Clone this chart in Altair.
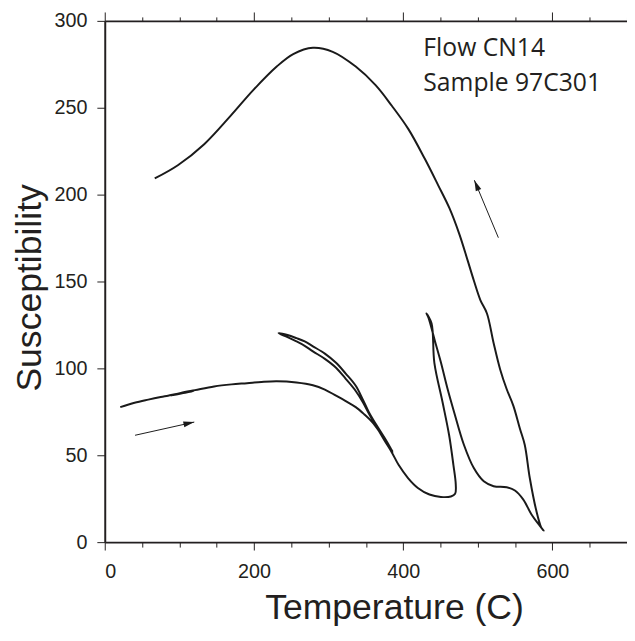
import math
import altair as alt
import pandas as pd

# ---- measured path (temperature in C, susceptibility) in drawing order ----
temp = [
    20.8, 40, 58.3, 75, 84.8, 100, 120, 105, 88, 102, 121, 146.6, 170, 190.7, 210, 230.5,
    257, 279, 295, 310, 323, 336.4, 348, 358.5, 370, 380.5, 386,
    375, 364, 354, 346, 336.4, 323, 310, 295, 279, 268, 257, 245, 233,
    245, 257, 268, 279, 295, 310, 323, 336.4, 346, 354, 364, 375, 385,
    393.8, 406.5, 419.7, 435.2, 450.6, 463.9, 469.6, 470.5, 467.3, 461.6, 452.8, 441.8, 438, 431.3,
    434, 443, 450.7, 459, 468.3, 481.5, 494.7, 508, 521.2, 538.8, 549.8, 560.8, 571.8, 583, 588.2,
    585, 578.5, 569.7, 563, 556.5, 547.6, 538.8, 530, 521.2, 512.3, 503.6, 494.7, 486.5, 475.5,
    462, 446.8, 429, 407, 385, 363, 336.4, 305.6, 279, 252.6, 230.5, 199.6, 168.6, 133.3, 98, 67,
]
susc = [
    77.7, 80.2, 82, 83.5, 84.3, 85.6, 87.1, 85.8, 84.3, 85.9, 87.5, 89.6, 90.8, 91.5, 92.2, 92.6,
    91.9, 90.3, 87.8, 84.3, 81.2, 77.7, 73.5, 69.1, 62.5, 55.9, 52,
    60, 67.5, 74.8, 82, 90, 97, 103.2, 108.5, 112.7, 115.5, 117.4, 119.2, 120.3,
    118, 115.5, 113, 109.8, 105.5, 100.4, 94, 87, 80.5, 74, 66.5, 58.5, 51.5,
    44.5, 36.9, 31.2, 27.4, 26, 26.3, 27.8, 33.1, 44.5, 61.5, 80.5, 103.2, 126, 131.6,
    129, 115, 103.2, 89, 74.8, 55.9, 42.6, 35, 32.2, 31.6, 29.7, 24.6, 16.1, 9.5, 6.6,
    8.5, 18, 36.9, 55.9, 65.3, 78.6, 88, 99.4, 114.6, 131.6, 139.2, 150.6, 162, 177,
    192.2, 205.5, 220.6, 237.7, 251, 263, 273.7, 282.2, 284.5, 280.9, 273.7, 260.4, 245.3, 229, 216.9, 209.3,
]

# ---- arrows (tail -> head) ----
arrow_x0 = [40.6, 527.6]
arrow_y0 = [61.5, 175.2]
arrow_x1 = [120.0, 495.4]
arrow_y1 = [69.1, 208.3]

# ---- annotation ----
note_text = ["Flow CN14", "Sample 97C301"]
note_x = [427.0, 427.0]
note_y = [279.6, 259.6]

x_ticks = list(range(0, 701, 50))
y_ticks = list(range(0, 301, 50))

W, H = 529, 528
INK = "#231f20"

df_curve = pd.DataFrame({"T": temp, "S": susc, "i": range(len(temp))})

px_x = W / 700.0
px_y = H / 300.0
angles = []
for a, b, c, d in zip(arrow_x0, arrow_y0, arrow_x1, arrow_y1):
    dx = (c - a) * px_x
    dy = -(d - b) * px_y
    ang = math.degrees(math.atan2(dx, -dy)) % 360
    angles.append(ang)
df_arrows = pd.DataFrame({"x0": arrow_x0, "y0": arrow_y0, "x1": arrow_x1, "y1": arrow_y1, "ang": angles})
df_note = pd.DataFrame({"x": note_x, "y": note_y, "t": note_text})

x_scale = alt.Scale(domain=[0, 700], nice=False, zero=False)
y_scale = alt.Scale(domain=[0, 300], nice=False, zero=False)

bottom_axis = alt.Axis(
    values=x_ticks,
    labelExpr="datum.value % 200 === 0 ? datum.label : ''",
    tickSize=8,
    tickDash={"condition": {"test": "datum.value % 200 === 0", "value": [30, 1]}, "value": [5, 30]},
    labelPadding=12,
    title="Temperature (C)",
    titleX=293,
    titleY=77,
    titleAlign="center",
    titleBaseline="alphabetic",
    orient="bottom",
)
top_axis = alt.Axis(
    values=x_ticks,
    labels=False,
    tickSize=9,
    tickDash={"condition": {"test": "datum.value % 200 === 0", "value": [30, 1]}, "value": [4, 30]},
    title=None,
    orient="top",
)
y_axis = alt.Axis(
    values=y_ticks,
    tickSize=8,
    labelPadding=10,
    title="Susceptibility",
    titleX=-65,
    titleY=270,
    titleAlign="center",
    titleBaseline="alphabetic",
    titleAngle=270,
)

curve = alt.Chart(df_curve).mark_line(
    color="#1a1a1a", strokeWidth=2, strokeJoin="round", interpolate="catmull-rom"
).encode(
    x=alt.X("T:Q", scale=x_scale, axis=bottom_axis),
    y=alt.Y("S:Q", scale=y_scale, axis=y_axis),
    order="i:Q",
)

shafts = alt.Chart(df_arrows).mark_rule(color="#1a1a1a", strokeWidth=1).encode(
    x=alt.X("x0:Q", scale=x_scale, axis=None),
    y=alt.Y("y0:Q", scale=y_scale, axis=y_axis),
    x2="x1:Q",
    y2="y1:Q",
)

heads = alt.Chart(df_arrows).mark_point(
    shape="M0,0L0.6,2.2L-0.6,2.2Z", filled=True, size=100, color="#1a1a1a", opacity=1, strokeWidth=0
).encode(
    x=alt.X("x1:Q", scale=x_scale, axis=None),
    y=alt.Y("y1:Q", scale=y_scale, axis=y_axis),
    angle=alt.Angle("ang:Q", scale=None),
)

notes = alt.Chart(df_note).mark_text(
    align="left", baseline="alphabetic", font="Open Sans", fontSize=25, color=INK
).encode(
    x=alt.X("x:Q", scale=x_scale, axis=top_axis),
    y=alt.Y("y:Q", scale=y_scale, axis=y_axis),
    text="t:N",
)

chart = alt.layer(curve, shafts, heads, notes).resolve_axis(x="independent").properties(
    width=W,
    height=H,
    autosize=alt.AutoSizeParams(type="none"),
    padding={"left": 98, "top": 9, "right": 0, "bottom": 88},
).configure_view(stroke=None).configure_axis(
    grid=False,
    domainColor=INK,
    domainWidth=2,
    tickColor=INK,
    tickWidth=1,
    labelFont="Liberation Sans",
    labelFontSize=20,
    labelColor=INK,
    titleFont="Liberation Sans",
    titleFontSize=36,
    titleFontWeight="normal",
    titleColor=INK,
)

chart.save("out.html", embed_options={"renderer": "svg", "actions": False})
